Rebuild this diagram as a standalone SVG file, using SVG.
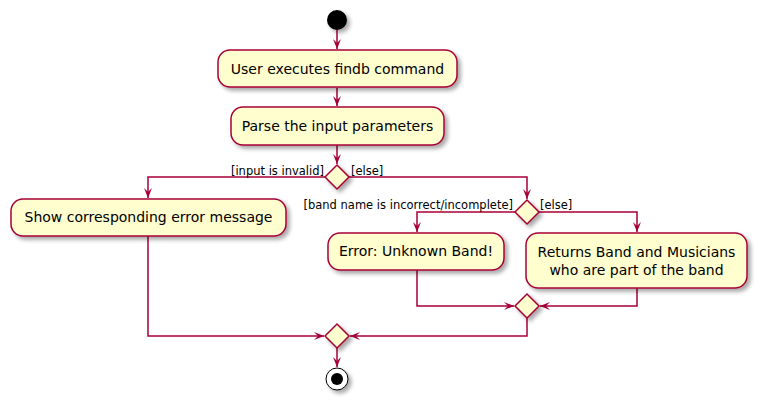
<svg xmlns="http://www.w3.org/2000/svg" width="763" height="406" viewBox="0 0 763 406">
<style>
.box{fill:#FEFECE;stroke:#A80036;stroke-width:1.5;filter:url(#sh)}
.dia{fill:#FEFECE;stroke:#A80036;stroke-width:1.5;filter:url(#sh)}
.t{font-family:"DejaVu Sans",sans-serif;font-size:14px;fill:#000;text-anchor:middle}
.l{font-family:"DejaVu Sans",sans-serif;font-size:11.5px;fill:#000}
.c{fill:none;stroke:#A80036;stroke-width:1.5}
</style>
<defs>
<filter id="sh" x="-20%" y="-20%" width="150%" height="160%">
<feGaussianBlur in="SourceAlpha" stdDeviation="2"/>
<feOffset dx="3" dy="3" result="b"/>
<feComponentTransfer><feFuncA type="linear" slope="0.35"/></feComponentTransfer>
<feMerge><feMergeNode/><feMergeNode in="SourceGraphic"/></feMerge>
</filter>
<marker id="a" markerUnits="userSpaceOnUse" markerWidth="12" markerHeight="10" refX="10" refY="4" orient="auto">
<path d="M0,0 L10,4 L0,8 L4,4 Z" fill="#A80036"/>
</marker>
</defs>
<g id="connectors">
<path class="c" d="M337,30 V49" marker-end="url(#a)"/>
<path class="c" d="M337,88 V106" marker-end="url(#a)"/>
<path class="c" d="M337,145 V164" marker-end="url(#a)"/>
<path class="c" d="M325,177 H148 V198" marker-end="url(#a)"/>
<path class="c" d="M349,177 H527 V199" marker-end="url(#a)"/>
<path class="c" d="M515,212 H417 V232" marker-end="url(#a)"/>
<path class="c" d="M539,212 H637 V232" marker-end="url(#a)"/>
<path class="c" d="M417,270 V306 H514" marker-end="url(#a)"/>
<path class="c" d="M637,288 V306 H540" marker-end="url(#a)"/>
<path class="c" d="M148,236 V336 H324" marker-end="url(#a)"/>
<path class="c" d="M527,318 V336 H350" marker-end="url(#a)"/>
<path class="c" d="M337,348 V367" marker-end="url(#a)"/>
<text class="l" x="324" y="175" text-anchor="end">[input is invalid]</text>
<text class="l" x="351" y="175">[else]</text>
<text class="l" x="513" y="209" text-anchor="end">[band name is incorrect/incomplete]</text>
<text class="l" x="540" y="209">[else]</text>
</g>
<g id="start"><circle cx="337" cy="20" r="10" fill="#000" filter="url(#sh)"/></g>
<g id="n1"><rect class="box" x="218" y="50" width="239" height="37" rx="12"/><text class="t" x="337.5" y="74">User executes findb command</text></g>
<g id="n2"><rect class="box" x="231" y="107" width="213" height="38" rx="12"/><text class="t" x="337.5" y="131">Parse the input parameters</text></g>
<g id="d1"><polygon class="dia" points="337,165 349,177 337,189 325,177"/></g>
<g id="n3"><rect class="box" x="11" y="199" width="275" height="37" rx="12"/><text class="t" x="148.5" y="222">Show corresponding error message</text></g>
<g id="d2"><polygon class="dia" points="527,200 539,212 527,224 515,212"/></g>
<g id="n4"><rect class="box" x="328" y="233" width="176" height="37" rx="12"/><text class="t" x="416" y="256">Error: Unknown Band!</text></g>
<g id="n5"><rect class="box" x="526" y="233" width="221" height="55" rx="12"/><text class="t" x="636.5" y="257">Returns Band and Musicians</text><text class="t" x="636.5" y="275">who are part of the band</text></g>
<g id="m2"><polygon class="dia" points="527,294 539,306 527,318 515,306"/></g>
<g id="m1"><polygon class="dia" points="337,324 349,336 337,348 325,336"/></g>
<g id="end"><circle cx="337" cy="379" r="11" fill="#fff" stroke="#000" stroke-width="1" filter="url(#sh)"/><circle cx="337" cy="379" r="6" fill="#000"/></g>
</svg>
